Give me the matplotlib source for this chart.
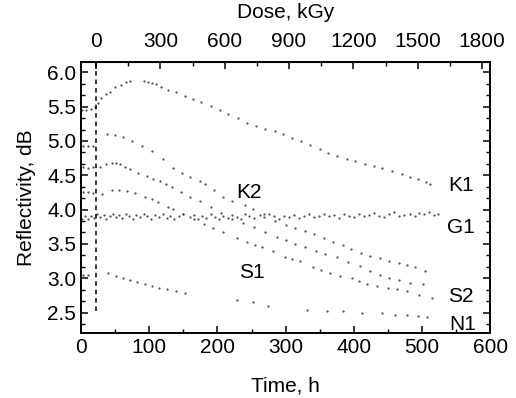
import matplotlib
matplotlib.use("Agg")
import matplotlib.pyplot as plt
from matplotlib.ticker import MultipleLocator, AutoMinorLocator

plt.rcParams['font.family'] = ['Liberation Sans', 'DejaVu Sans']

# irradiation start (h) and dose rate (kGy/h) for the top axis
t0 = 22
rate = 3.18

# K1
k1_t = [2, 8, 14, 20, 25, 30, 36, 42, 50, 58, 66, 72, 92, 98, 104, 110, 118, 128, 140, 152,
        164, 176, 190, 204, 216, 230, 244, 256, 270, 284, 296, 310, 322, 336, 350, 362, 376,
        390, 402, 416, 430, 442, 456, 470, 482, 494, 506, 512]
k1_v = [5.45, 5.45, 5.46, 5.50, 5.56, 5.62, 5.68, 5.72, 5.78, 5.82, 5.86, 5.88, 5.87, 5.86,
        5.85, 5.83, 5.79, 5.75, 5.71, 5.66, 5.61, 5.57, 5.51, 5.45, 5.40, 5.33, 5.26, 5.22,
        5.17, 5.14, 5.10, 5.05, 5.00, 4.94, 4.88, 4.83, 4.78, 4.74, 4.71, 4.67, 4.63, 4.60,
        4.56, 4.52, 4.48, 4.44, 4.40, 4.37]

# K2
k2_t = [3, 10, 17, 38, 50, 62, 75, 90, 104, 120, 135, 148, 160, 174, 182, 195, 208, 222, 240,
        252, 268, 284, 300, 314, 328, 342, 356, 370, 384, 396, 410, 424, 438, 452, 466, 478,
        490, 504]
k2_v = [4.92, 4.93, 4.92, 5.10, 5.09, 5.06, 5.00, 4.93, 4.85, 4.74, 4.61, 4.54, 4.48, 4.41,
        4.37, 4.28, 4.19, 4.13, 4.06, 4.01, 3.93, 3.84, 3.77, 3.73, 3.69, 3.64, 3.58, 3.53,
        3.48, 3.42, 3.37, 3.32, 3.29, 3.25, 3.22, 3.19, 3.17, 3.11]

# S1
s1_t = [3, 10, 17, 28, 36, 45, 52, 57, 65, 72, 84, 97, 106, 116, 125, 133, 146, 160, 174, 190,
        206, 222, 238, 254, 270, 287, 300, 314, 328, 344, 358, 375, 392, 409, 424, 438, 452,
        466, 482, 501]
s1_v = [4.62, 4.61, 4.62, 4.62, 4.66, 4.68, 4.68, 4.66, 4.62, 4.59, 4.54, 4.49, 4.45, 4.42,
        4.37, 4.33, 4.26, 4.19, 4.13, 4.04, 3.95, 3.87, 3.80, 3.74, 3.67, 3.60, 3.55, 3.50,
        3.46, 3.40, 3.36, 3.31, 3.24, 3.18, 3.11, 3.04, 3.00, 2.97, 2.93, 2.92]

# S2
s2_t = [3, 10, 17, 31, 45, 56, 67, 79, 94, 104, 113, 128, 135, 150, 165, 180, 194, 208, 228,
        243, 255, 265, 282, 299, 310, 321, 340, 352, 365, 380, 397, 408, 419, 434, 450, 464,
        478, 496, 515]
s2_v = [4.25, 4.26, 4.24, 4.23, 4.29, 4.28, 4.27, 4.24, 4.19, 4.15, 4.11, 4.04, 4.01, 3.93,
        3.86, 3.79, 3.73, 3.68, 3.59, 3.53, 3.49, 3.46, 3.39, 3.31, 3.28, 3.25, 3.17, 3.12,
        3.07, 3.03, 3.00, 2.96, 2.92, 2.88, 2.86, 2.84, 2.81, 2.76, 2.71]

# N1
n1_t = [3, 10, 40, 52, 62, 72, 82, 94, 104, 115, 126, 140, 152, 229, 252, 274, 331, 360, 384,
        412, 441, 460, 478, 494, 507]
n1_v = [3.05, 3.04, 3.07, 3.03, 3.00, 2.97, 2.95, 2.92, 2.89, 2.86, 2.84, 2.81, 2.79, 2.68,
        2.65, 2.60, 2.53, 2.52, 2.52, 2.50, 2.49, 2.47, 2.46, 2.45, 2.44]

# G1
g1_t = [1, 6, 10, 15, 19, 24, 28, 33, 37, 42, 47, 51, 56, 60, 66, 71, 76, 80, 86, 92,
        97, 103, 108, 114, 120, 126, 131, 137, 143, 149, 160, 166, 172, 178, 184, 190, 196,
        202, 208, 215, 221, 228, 234, 240, 247, 253, 262, 268, 276, 283, 290, 297, 305, 312,
        320, 327, 334, 341, 349, 356, 363, 371, 378, 386, 393, 400, 408, 415, 423, 430, 437,
        445, 452, 459, 467, 474, 482, 489, 496, 503, 510, 517, 523]
g1_v = [3.87, 3.91, 3.86, 3.90, 3.88, 3.93, 3.89, 3.92, 3.87, 3.91,
        3.94, 3.89, 3.92, 3.88, 3.93, 3.90, 3.87, 3.92, 3.89, 3.94,
        3.90, 3.86, 3.92, 3.89, 3.93, 3.88, 3.91, 3.87, 3.90, 3.93,
        3.89, 3.92, 3.87, 3.91, 3.88, 3.93, 3.89, 3.86, 3.91, 3.88,
        3.92, 3.89, 3.87, 3.93, 3.90, 3.88, 3.92, 3.89, 3.94, 3.90,
        3.87, 3.91, 3.89, 3.92, 3.88, 3.90, 3.93, 3.89, 3.91, 3.94,
        3.90, 3.92, 3.88, 3.93, 3.91, 3.89, 3.94, 3.90, 3.92, 3.95,
        3.91, 3.89, 3.93, 3.96, 3.90, 3.92, 3.94, 3.91, 3.95, 3.93,
        3.96, 3.92, 3.94]

labels = ["K1", "K2", "G1", "S1", "S2", "N1"]
label_t = [557, 247, 557, 251, 557, 560]
label_v = [4.35, 4.25, 3.74, 3.08, 2.74, 2.33]


def main():
    fig = plt.figure(figsize=(5.16, 3.98), dpi=100)
    ax = fig.add_axes([0.157, 0.163, 0.793, 0.681])

    for t, v in [(k1_t, k1_v), (k2_t, k2_v), (s1_t, s1_v), (s2_t, s2_v),
                 (n1_t, n1_v), (g1_t, g1_v)]:
        ax.plot(t, v, linestyle="none", marker="o", ms=1.6, mew=0, color="0.3")

    # start of irradiation
    ax.vlines(t0, 2.52, 6.2, colors="black", linestyles=(0, (3, 2.5)), lw=1.1)

    for s, t, v in zip(labels, label_t, label_v):
        ax.text(t, v, s, fontsize=15, ha="center", va="center")

    ax.set_xlim(0, 600)
    ax.set_ylim(2.2, 6.15)
    ax.xaxis.set_major_locator(MultipleLocator(100))
    ax.xaxis.set_minor_locator(MultipleLocator(50))
    ax.yaxis.set_major_locator(MultipleLocator(0.5))
    ax.yaxis.set_minor_locator(AutoMinorLocator(3))
    ax.yaxis.set_major_formatter(matplotlib.ticker.FormatStrFormatter("%.1f"))
    ax.tick_params(which="both", direction="in", right=True, labelsize=15)
    ax.tick_params(which="major", length=5, width=1.1)
    ax.tick_params(which="minor", length=3, width=1.0)
    for sp in ax.spines.values():
        sp.set_linewidth(1.4)

    ax.set_xlabel("Time, h", fontsize=15, labelpad=14)
    ax.set_ylabel("Reflectivity, dB", fontsize=15, labelpad=8)

    top = ax.secondary_xaxis("top", functions=(lambda t: (t - t0) * rate,
                                               lambda d: d / rate + t0))
    top.xaxis.set_major_locator(MultipleLocator(300))
    top.xaxis.set_minor_locator(MultipleLocator(150))
    top.tick_params(which="both", direction="in", labelsize=15, pad=8)
    top.tick_params(which="major", length=5, width=1.1)
    top.tick_params(which="minor", length=3, width=1.0)
    # axis title on top, placed by hand so it clears the tick labels
    fig.text(0.553, 1 - 13 / 398, "Dose, kGy", fontsize=15, ha="center", va="center")

    fig.savefig("out.png", dpi=100)


if __name__ == "__main__":
    main()
